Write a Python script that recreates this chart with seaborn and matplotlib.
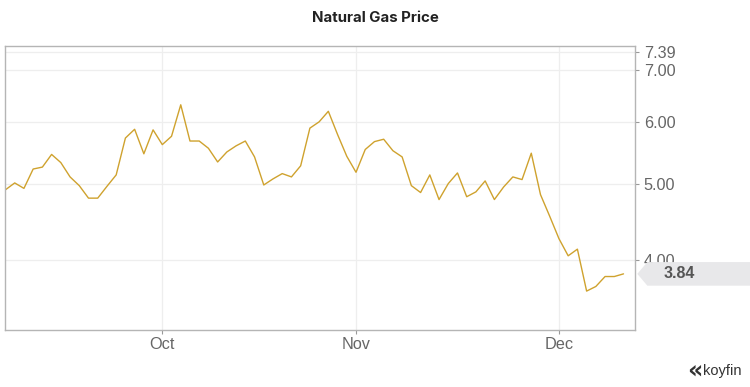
import numpy as np
import pandas as pd
import seaborn as sns
import matplotlib.pyplot as plt
from matplotlib.patches import Polygon
from matplotlib.ticker import FixedLocator, NullLocator

# Dados: preço diário (dias úteis) do gás natural
dates = pd.bdate_range('2021-09-08', '2021-12-10')
prices = [4.92, 5.02, 4.94, 5.23, 5.26, 5.46, 5.33, 5.11, 4.98, 4.80,
          4.80, 4.97, 5.14, 5.73, 5.88, 5.47, 5.87, 5.62, 5.76, 6.32,
          5.68, 5.68, 5.56, 5.34, 5.50, 5.60, 5.68, 5.42, 4.99, 5.08,
          5.16, 5.11, 5.28, 5.90, 6.01, 6.20, 5.79, 5.43, 5.18, 5.54,
          5.67, 5.71, 5.52, 5.42, 4.98, 4.88, 5.14, 4.78, 5.01, 5.17,
          4.82, 4.89, 5.05, 4.78, 4.96, 5.11, 5.07, 5.48, 4.85, 4.55,
          4.26, 4.05, 4.13, 3.65, 3.70, 3.81, 3.81, 3.84]
y_ticks = [4.00, 5.00, 6.00, 7.00, 7.39]
month_labels = ['Oct', 'Nov', 'Dec']

df = pd.DataFrame({'idx': np.arange(len(dates)), 'date': dates, 'price': prices})
month_pos = [df.index[df['date'].dt.month == m][0] for m in (10, 11, 12)]

sns.set_style('white')
plt.rcParams['font.family'] = ['Liberation Sans', 'DejaVu Sans']

fig = plt.figure(figsize=(7.5, 3.87), dpi=100)
ax = fig.add_axes([0.0067, 0.1473, 0.8404, 0.7346])

sns.lineplot(data=df, x='idx', y='price', color='#cfa22e', linewidth=1.0, ax=ax)

ax.set_yscale('log')
ax.set_ylim(3.2546, 7.522)
ax.set_xlim(-0.05, 68.28)
ax.yaxis.set_major_locator(FixedLocator(y_ticks))
ax.yaxis.set_minor_locator(NullLocator())
ax.set_yticklabels([f'{v:.2f}' for v in y_ticks])
ax.yaxis.tick_right()
ax.set_xticks(month_pos)
ax.set_xticklabels(month_labels)
ax.set_xlabel('')
ax.set_ylabel('')

ax.grid(True, color='#eeeeee', linewidth=0.9)
for s in ax.spines.values():
    s.set_color('#b5b5b5')
    s.set_linewidth(1.0)
ax.tick_params(axis='y', which='major', right=True, length=3, width=0.8,
               color='#999999', labelsize=11.7, labelcolor='#666666', pad=3)
ax.tick_params(axis='x', which='major', bottom=True, length=3, width=0.8,
               color='#999999', labelsize=11.7, labelcolor='#666666', pad=2)

fig.text(0.5, 0.953, 'Natural Gas Price', ha='center', va='center',
         fontsize=10.8, fontweight='bold', color='#222222', family='Inter')

# Etiqueta do último valor
fig.canvas.draw()
W, H = fig.get_size_inches() * fig.dpi
ty = ax.transData.transform((0, prices[-1]))[1]
x0 = ax.get_position().x1 * W + 2
hh = 11.8
pts = [(x0, ty), (x0 + 10, ty + hh), (W, ty + hh), (W, ty - hh), (x0 + 10, ty - hh)]
fig.add_artist(Polygon([(px / W, py / H) for px, py in pts], closed=True,
                       transform=fig.transFigure, facecolor='#e8e8ea', edgecolor='none'))
fig.text(679 / W, ty / H, f'{prices[-1]:.2f}', ha='center', va='center',
         fontsize=11.5, fontweight='bold', color='#555555')

# Logo
fig.text(741 / W, 1 - 371 / H, 'koyfin', ha='right', va='center', fontsize=10.5, color='#333333')
fig.text(695 / W, 1 - 371.5 / H, '«', ha='center', va='center', fontsize=17,
         fontweight='bold', color='#333333', family='DejaVu Sans')

plt.savefig('out.png', dpi=100)
